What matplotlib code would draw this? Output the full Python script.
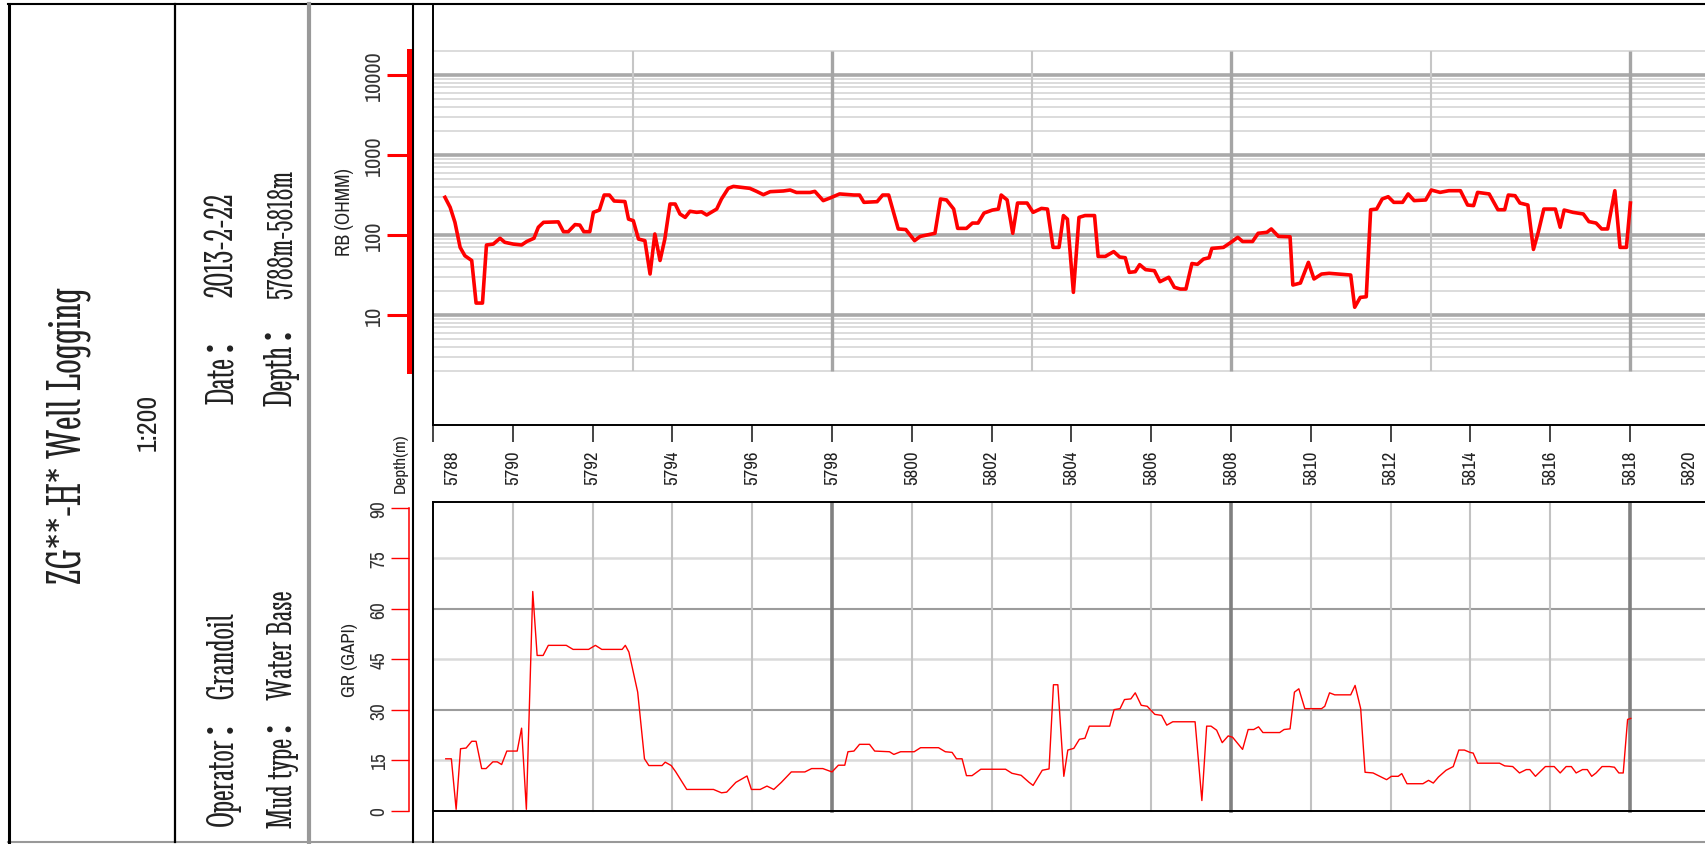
import matplotlib
matplotlib.use("Agg")
import matplotlib.pyplot as plt
from matplotlib import font_manager
from matplotlib.ticker import NullLocator

rb_depth = [5788.30, 5788.43, 5788.55, 5788.68, 5788.80, 5788.97, 5789.08, 5789.24, 5789.34, 5789.51,
            5789.68, 5789.80, 5790.01, 5790.22, 5790.35, 5790.53, 5790.64, 5790.77, 5791.14, 5791.27,
            5791.39, 5791.56, 5791.68, 5791.78, 5791.93, 5792.02, 5792.17, 5792.29, 5792.42, 5792.54,
            5792.81, 5792.90, 5793.02, 5793.15, 5793.31, 5793.44, 5793.56, 5793.69, 5793.81, 5793.94,
            5794.07, 5794.19, 5794.32, 5794.44, 5794.61, 5794.73, 5794.86, 5795.11, 5795.23, 5795.40,
            5795.53, 5795.78, 5795.94, 5796.11, 5796.28, 5796.45, 5796.78, 5796.95, 5797.11, 5797.45,
            5797.57, 5797.78, 5797.95, 5798.19, 5798.55, 5798.69, 5798.80, 5799.13, 5799.27, 5799.42,
            5799.66, 5799.85, 5800.07, 5800.21, 5800.58, 5800.72, 5800.87, 5801.05, 5801.15, 5801.37,
            5801.52, 5801.66, 5801.81, 5802.02, 5802.17, 5802.24, 5802.39, 5802.53, 5802.65, 5802.89,
            5803.04, 5803.25, 5803.40, 5803.54, 5803.69, 5803.80, 5803.90, 5804.05, 5804.19, 5804.34,
            5804.58, 5804.67, 5804.85, 5805.06, 5805.21, 5805.35, 5805.45, 5805.60, 5805.71, 5805.86,
            5806.08, 5806.22, 5806.44, 5806.58, 5806.73, 5806.87, 5807.02, 5807.16, 5807.31, 5807.45,
            5807.52, 5807.81, 5808.00, 5808.17, 5808.29, 5808.54, 5808.68, 5808.90, 5809.01, 5809.19,
            5809.48, 5809.55, 5809.74, 5809.94, 5810.08, 5810.27, 5810.46, 5811.00, 5811.10, 5811.24,
            5811.39, 5811.50, 5811.65, 5811.79, 5811.94, 5812.08, 5812.30, 5812.44, 5812.59, 5812.88,
            5813.02, 5813.24, 5813.46, 5813.75, 5813.93, 5814.08, 5814.18, 5814.47, 5814.69, 5814.86,
            5814.95, 5815.12, 5815.24, 5815.44, 5815.58, 5815.70, 5815.84, 5816.13, 5816.25, 5816.35,
            5816.57, 5816.83, 5816.97, 5817.15, 5817.29, 5817.44, 5817.62, 5817.75, 5817.91, 5818.01]
rb_value = [296, 222, 144, 70, 55, 48, 14.1, 14.1, 75, 77,
            91, 81, 77, 75, 83, 91, 125, 144, 146, 110,
            110, 135, 133, 110, 110, 192, 205, 316, 316, 266,
            262, 158, 151, 89, 85, 32.5, 103, 48, 89, 244,
            244, 183, 166, 198, 192, 195, 178, 211, 282, 383,
            405, 391, 383, 351, 319, 348, 355, 365, 340, 340,
            351, 269, 290, 326, 316, 316, 256, 261, 316, 316,
            119, 117, 85, 96, 105, 282, 274, 211, 121, 121,
            141, 141, 188, 205, 211, 316, 274, 105, 251, 251,
            192, 215, 211, 70, 70, 175, 158, 19.2, 166, 175,
            175, 54, 54, 62, 53, 52, 34.1, 34.8, 42.6, 36.9,
            35.8, 26.1, 29.6, 22.2, 21.1, 21.1, 44, 43, 50, 52,
            68, 70, 81, 93.5, 83, 83, 105, 108, 119, 96,
            95, 23.7, 25.1, 45.5, 28.2, 32.5, 33.2, 31.6, 12.5, 16.6,
            16.9, 207, 211, 282, 301, 256, 256, 326, 269, 274,
            365, 341, 358, 358, 237, 233, 341, 326, 207, 207,
            316, 310, 251, 237, 66, 108, 211, 211, 125, 205,
            192, 183, 147, 141, 119, 119, 358, 70, 70, 251]

gr_depth = [5788.32, 5788.46, 5788.58, 5788.69, 5788.83, 5788.97, 5789.08, 5789.22, 5789.33, 5789.50,
            5789.61, 5789.72, 5789.85, 5790.11, 5790.22, 5790.34, 5790.50, 5790.61, 5790.76, 5790.89,
            5791.34, 5791.51, 5791.90, 5792.07, 5792.23, 5792.74, 5792.82, 5792.91, 5793.13, 5793.30,
            5793.41, 5793.74, 5793.82, 5793.97, 5794.08, 5794.25, 5794.36, 5795.03, 5795.23, 5795.36,
            5795.59, 5795.87, 5795.98, 5796.20, 5796.37, 5796.54, 5796.73, 5796.98, 5797.32, 5797.49,
            5797.77, 5798.00, 5798.16, 5798.32, 5798.40, 5798.55, 5798.69, 5798.94, 5799.07, 5799.44,
            5799.55, 5799.72, 5800.06, 5800.22, 5800.67, 5800.84, 5801.01, 5801.12, 5801.26, 5801.37,
            5801.51, 5801.73, 5802.35, 5802.51, 5802.74, 5802.94, 5803.04, 5803.27, 5803.44, 5803.55,
            5803.66, 5803.81, 5803.91, 5804.06, 5804.20, 5804.34, 5804.45, 5804.96, 5805.07, 5805.22,
            5805.33, 5805.49, 5805.60, 5805.75, 5805.90, 5806.09, 5806.26, 5806.39, 5806.54, 5807.10,
            5807.27, 5807.39, 5807.50, 5807.64, 5807.78, 5807.93, 5808.04, 5808.29, 5808.43, 5808.57,
            5808.69, 5808.80, 5809.22, 5809.33, 5809.48, 5809.59, 5809.70, 5809.85, 5810.27, 5810.35,
            5810.47, 5810.60, 5811.00, 5811.11, 5811.25, 5811.36, 5811.56, 5811.73, 5811.90, 5812.02,
            5812.19, 5812.28, 5812.41, 5812.81, 5812.95, 5813.07, 5813.20, 5813.39, 5813.57, 5813.71,
            5813.85, 5813.99, 5814.07, 5814.18, 5814.73, 5814.86, 5815.06, 5815.23, 5815.40, 5815.49,
            5815.63, 5815.88, 5816.10, 5816.25, 5816.40, 5816.53, 5816.65, 5816.81, 5816.93, 5817.04,
            5817.15, 5817.30, 5817.49, 5817.61, 5817.72, 5817.83, 5817.94, 5818.02]
gr_value = [15.5, 15.5, 0.5, 18.5, 18.7, 20.7, 20.7, 12.6, 12.6, 14.6,
            14.6, 13.8, 17.8, 17.8, 24.6, 0.5, 65.2, 46.2, 46.2, 49.2,
            49.2, 48.0, 48.0, 49.2, 48.0, 48.0, 49.2, 47.2, 35.3, 15.5,
            13.5, 13.5, 14.5, 13.5, 11.7, 8.5, 6.4, 6.4, 5.4, 5.6,
            8.5, 10.4, 6.4, 6.4, 7.4, 6.4, 8.5, 11.6, 11.6, 12.6,
            12.6, 11.6, 13.6, 13.6, 17.6, 17.8, 19.8, 19.8, 17.8, 17.6,
            16.8, 17.6, 17.6, 18.8, 18.8, 17.6, 17.4, 15.5, 15.5, 10.5,
            10.5, 12.4, 12.4, 11.2, 10.6, 8.5, 7.6, 12.1, 12.5, 37.5,
            37.5, 10.3, 18.1, 18.6, 21.3, 21.6, 25.2, 25.2, 30.1, 30.4,
            33.1, 33.3, 35.1, 31.4, 31.1, 28.7, 28.4, 25.5, 26.5, 26.5,
            3.1, 25.2, 25.2, 24.0, 20.3, 22.3, 21.9, 18.3, 24.2, 24.2,
            25.0, 23.3, 23.3, 24.2, 24.4, 35.3, 36.3, 30.4, 30.4, 31.1,
            35.1, 34.5, 34.5, 37.3, 30.4, 11.5, 11.3, 10.3, 9.3, 10.3,
            10.3, 11.1, 8.1, 8.1, 9.1, 8.3, 10.1, 12.1, 13.2, 18.1,
            18.1, 17.4, 17.2, 14.2, 14.2, 13.4, 13.2, 11.3, 12.3, 12.3,
            10.3, 13.2, 13.2, 11.3, 13.2, 13.2, 11.3, 12.3, 12.3, 10.3,
            11.3, 13.2, 13.2, 13.0, 11.3, 11.3, 27.2, 27.5]

depth_ticks = list(range(5788, 5821, 2))
rb_ticks = [10, 100, 1000, 10000]
gr_ticks = [0, 15, 30, 45, 60, 75, 90]

# ---- fonts ----
names = {f.name for f in font_manager.fontManager.ttflist}

def pick(*cands):
    for c in cands:
        if c in names:
            return c
    return "DejaVu Sans"

SANS = pick("Archivo Narrow", "Roboto Condensed", "Liberation Sans")
SERIF = pick("Stint Ultra Condensed", "Liberation Serif", "DejaVu Serif")

W, H = 1705, 845
fig = plt.figure(figsize=(W / 100, H / 100), dpi=100)

# overlay in pixel coordinates for the header frame
ax0 = fig.add_axes([0, 0, 1, 1])
ax0.set_xlim(0, W)
ax0.set_ylim(H, 0)
ax0.axis("off")

ax0.plot([8, W], [5, 5], color="black", lw=1.5)
ax0.plot([8, W], [843, 843], color="#999999", lw=1.5)
ax0.plot([9, 9], [5, 843], color="black", lw=2.2)
ax0.plot([175, 175], [5, 843], color="black", lw=1.6)
ax0.plot([309, 309], [5, 843], color="#999999", lw=3)
ax0.plot([413, 413], [5, 843], color="black", lw=1.5)

hdr = dict(rotation=90, rotation_mode="anchor", va="baseline", color="#222222")
serif = [SERIF, "Noto Sans CJK SC"]
ax0.text(81, 436, "ZG**-H* Well Logging", ha="center", fontsize=37, family=serif, **hdr)
ax0.text(156, 422, "1:200", ha="center", fontsize=20, family=SANS, **hdr)
ax0.text(233, 404, "Date：", ha="left", fontsize=30, family=serif, **hdr)
ax0.text(233, 297, "2013-2-22", ha="left", fontsize=30, family=serif, **hdr)
ax0.text(292, 406, "Depth：", ha="left", fontsize=30, family=serif, **hdr)
ax0.text(292, 299, "5788m-5818m", ha="left", fontsize=26.5, family=serif, **hdr)
ax0.text(233, 826, "Operator：Grandoil", ha="left", fontsize=29, family=serif, **hdr)
ax0.text(292, 828, "Mud type：Water Base", ha="left", fontsize=27.5, family=serif, **hdr)
ax0.text(400, 463, "Depth(m)", ha="center", va="center", fontsize=12.5, family=SANS,
         rotation=90, rotation_mode="anchor", color="#222222")

# ---- plot panels ----
left = 433 / W
width = (1730 - 433) / W
ax1 = fig.add_axes([left, 1 - 426 / H, width, (426 - 5) / H])
ax2 = fig.add_axes([left, 1 - 843 / H, width, (843 - 503) / H])
xlim = (5788, 5788 + (1730 - 433) / 39.9)
for ax in (ax1, ax2):
    ax.set_xlim(*xlim)
    ax.set_facecolor("none")
    ax.spines["right"].set_visible(False)
    ax.spines["left"].set_position(("outward", 17))
    ax.axvline(xlim[0], color="black", lw=1.4, clip_on=False)

# RB track
ax1.set_yscale("log")
ax1.set_ylim(10 ** -0.375, 10 ** 4.8875)
for k in range(0, 5):
    for m in range(2, 10):
        v = m * 10 ** k
        if v <= 20000:
            ax1.axhline(v, color="#d2d2d2", lw=1.1, zorder=1)
    if k >= 1:
        ax1.axhline(10 ** k, color="#a9a9a9", lw=2.6, zorder=1)
for d in range(5793, 5819, 5):
    major = (d - 5798) % 10 == 0
    ax1.vlines(d, 2, 20000, color="#a5a5a5" if major else "#c6c6c6",
               lw=2.4 if major else 1.5, zorder=1)
ax1.plot(rb_depth, rb_value, color="red", lw=2.6, zorder=3)

ax1.spines["left"].set_bounds(2, 20000)
ax1.spines["left"].set_color("red")
ax1.spines["left"].set_linewidth(3.6)
ax1.spines["top"].set_linewidth(1.4)
ax1.spines["bottom"].set_linewidth(1.4)
ax1.set_yticks(rb_ticks)
ax1.set_yticklabels([str(t) for t in rb_ticks])
ax1.yaxis.set_minor_locator(NullLocator())
ax1.tick_params(axis="y", which="major", direction="out", length=16, width=2.2,
                color="red", labelsize=16, pad=2, labelrotation=90, labelcolor="#333333")
for t in ax1.get_yticklabels():
    t.set_family(SANS)
    t.set_va("center")
ax1.set_xticks(depth_ticks)
ax1.tick_params(axis="x", direction="out", length=12, width=1.4, color="#444444",
                labelbottom=False)
ax1.set_ylabel("RB (OHMM)", fontsize=14, family=SANS, color="#222222", va="center")
ax1.yaxis.set_label_coords((344 - 433) / (1730 - 433), (426 - 212) / 421)

# depth labels in the band between the tracks
for d in depth_ticks:
    pos = d
    if d == depth_ticks[0]:
        pos = d + 0.48
    elif d == depth_ticks[-1]:
        pos = d - 0.52
    ax1.text(pos, -(468 - 426) / 421, str(d), transform=ax1.get_xaxis_transform(),
             rotation=90, rotation_mode="anchor", ha="center", va="center",
             fontsize=13.5, family=SANS, color="#222222")

# GR track
ylo, yhi = -9.21, 91.78
ax2.set_ylim(ylo, yhi)
for g in gr_ticks[1:-1]:
    dark = g % 30 == 0
    ax2.axhline(g, color="#9c9c9c" if dark else "#dadada", lw=1.5 if dark else 1.8, zorder=1)
f0 = (0 - ylo) / (yhi - ylo)
for d in depth_ticks[1:]:
    major = (d - 5798) % 10 == 0
    ax2.axvline(d, f0, 1, color="#808080" if major else "#c2c2c2",
                lw=2.6 if major else 1.5, zorder=1)
ax2.axhline(0, color="black", lw=1.4, zorder=2)
ax2.plot(gr_depth, gr_value, color="red", lw=1.0, zorder=3)

ax2.spines["left"].set_bounds(0, 90)
ax2.spines["left"].set_color("red")
ax2.spines["left"].set_linewidth(1.1)
ax2.spines["top"].set_linewidth(1.4)
ax2.spines["bottom"].set_visible(False)
ax2.set_xticks([])
ax2.set_yticks(gr_ticks)
ax2.set_yticklabels([str(t) for t in gr_ticks])
ax2.tick_params(axis="y", direction="out", length=13, width=1.0, color="red",
                labelsize=14, pad=2, labelrotation=90, labelcolor="#333333")
for t in ax2.get_yticklabels():
    t.set_family(SANS)
    t.set_va("center")
ax2.set_ylabel("GR (GAPI)", fontsize=13.5, family=SANS, color="#222222", va="center")
ax2.yaxis.set_label_coords((350 - 433) / (1730 - 433), (843 - 660) / 340)

fig.savefig("out.png", dpi=100)
